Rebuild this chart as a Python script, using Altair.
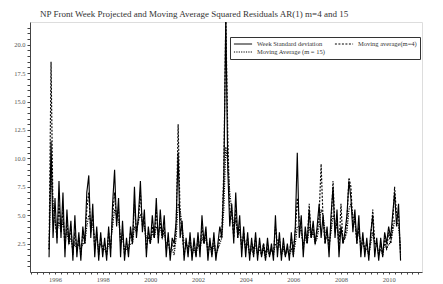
import altair as alt
import pandas as pd

series_names = ["Week Standard deviation", "Moving average(m=4)", "Moving Average (m = 15)"]
start_year = 1995.75
step = 1.0 / 12

week_sd = [1.3, 11.5, 3.0,
    6.5, 2.5, 8.0, 3.0, 7.0, 1.3, 5.5, 2.5, 4.5, 1.0, 5.0, 1.3,
    3.5, 1.0, 4.0, 2.5, 7.0, 8.5, 3.0, 6.0, 1.3, 4.0, 1.0, 3.5,
    1.3, 3.0, 1.0, 4.0, 1.3, 6.0, 9.0, 4.0, 6.5, 1.3, 4.5, 1.0,
    3.0, 1.3, 4.0, 2.5, 7.5, 3.0, 5.0, 8.0, 3.5, 5.5, 1.3, 4.0,
    2.5, 5.0, 3.0, 6.5, 2.5, 5.5, 3.0, 5.0, 1.3, 3.5, 1.0, 3.0,
    2.5, 4.5, 10.5, 3.0, 4.5, 1.0, 3.0, 1.3, 3.5, 1.0, 3.0, 1.3,
    3.5, 1.3, 5.0, 2.5, 4.0, 1.0, 3.0, 1.3, 3.5, 1.0, 2.5, 4.0,
    3.0, 8.0, 22.5, 9.0, 4.0, 6.0, 2.5, 7.0, 3.0, 5.0, 1.3, 4.0,
    1.3, 3.5, 1.0, 3.0, 1.3, 3.5, 1.0, 3.0, 1.3, 2.5, 1.0, 3.0,
    1.3, 2.5, 1.0, 5.0, 1.3, 3.5, 1.0, 3.0, 1.3, 2.5, 1.0, 3.5,
    1.3, 4.0, 10.5, 3.0, 5.0, 1.3, 4.0, 2.5, 5.5, 3.0, 4.5, 2.5,
    4.0, 6.0, 3.0, 5.0, 2.5, 4.0, 1.3, 5.0, 7.5, 3.0, 5.5, 1.3,
    4.0, 2.5, 3.5, 5.0, 8.0, 6.5, 3.5, 5.5, 2.5, 5.0, 1.3, 3.5,
    1.3, 3.0, 1.0, 3.5, 5.0, 1.3, 3.0, 1.0, 3.0, 1.3, 3.5, 2.5,
    4.0, 3.0, 5.0, 7.0, 4.0, 6.0, 1.0]

ma4 = [2.0, 18.5, 5.0,
    4.5, 3.0, 6.0, 3.5, 5.5, 2.0, 4.5, 2.5, 4.0, 1.5, 3.5, 2.0,
    3.0, 1.5, 3.5, 2.5, 5.5, 7.0, 3.5, 5.0, 2.0, 3.5, 1.5, 3.0,
    2.0, 2.5, 1.5, 3.5, 2.0, 5.0, 7.0, 4.5, 5.5, 2.5, 3.5, 1.5,
    2.5, 2.0, 3.5, 2.5, 6.0, 3.5, 4.5, 7.0, 4.0, 4.5, 2.0, 3.5,
    2.5, 4.0, 3.0, 5.5, 3.0, 4.5, 3.0, 4.0, 2.0, 3.0, 1.5, 2.5,
    2.0, 4.0, 13.0, 5.0, 3.5, 1.5, 2.5, 2.0, 3.0, 1.5, 2.5, 1.5,
    3.0, 2.0, 4.0, 2.5, 3.5, 1.5, 2.5, 2.0, 3.0, 1.5, 2.0, 3.0,
    3.5, 9.0, 22.5, 12.0, 5.5, 5.0, 3.0, 5.5, 3.0, 4.0, 2.0, 3.5,
    2.0, 3.0, 1.5, 2.5, 2.0, 3.0, 1.5, 2.5, 1.5, 2.5, 1.5, 2.5,
    1.5, 2.0, 1.5, 4.0, 2.5, 3.0, 1.5, 2.5, 1.5, 2.0, 1.5, 3.0,
    2.0, 3.5, 6.5, 4.5, 4.0, 2.0, 3.5, 2.5, 6.0, 3.0, 4.0, 2.5,
    3.5, 5.0, 9.5, 4.5, 2.5, 3.5, 2.0, 4.0, 8.0, 3.5, 4.5, 2.0,
    6.0, 2.5, 3.0, 4.5, 8.3, 7.5, 4.0, 4.5, 2.5, 4.0, 2.0, 3.0,
    2.0, 2.5, 1.5, 3.0, 5.5, 2.5, 2.5, 1.5, 2.5, 1.5, 3.0, 2.0,
    3.5, 2.5, 4.0, 7.5, 5.0, 5.0, 1.5]

ma15 = [2.0, 9.0, 6.0,
    4.5, 3.5, 4.5, 3.5, 4.5, 3.0, 3.5, 2.5, 3.0, 2.0, 2.5, 2.0,
    2.5, 2.0, 2.5, 2.5, 4.0, 5.0, 4.5, 4.0, 3.0, 3.0, 2.0, 2.5,
    2.0, 2.0, 1.5, 2.5, 2.5, 4.0, 5.5, 5.0, 4.5, 3.0, 3.0, 2.0,
    2.0, 2.0, 2.5, 2.5, 4.0, 3.5, 4.5, 5.0, 4.5, 4.0, 3.0, 3.0,
    2.5, 3.5, 3.0, 4.0, 3.5, 4.0, 3.0, 3.5, 2.5, 2.5, 2.0, 2.0,
    1.5, 3.0, 6.0, 5.5, 4.0, 2.5, 2.5, 2.0, 2.5, 1.5, 2.0, 1.5,
    2.5, 2.0, 3.0, 2.5, 3.0, 2.0, 2.5, 1.5, 2.5, 1.5, 2.0, 2.5,
    3.0, 5.5, 11.0, 9.5, 7.0, 5.5, 4.0, 4.5, 3.5, 3.5, 2.5, 3.0,
    2.0, 2.5, 1.5, 2.0, 1.5, 2.5, 1.5, 2.0, 1.5, 2.0, 1.2, 2.0,
    1.5, 2.0, 1.5, 2.5, 2.0, 2.5, 1.5, 2.0, 1.5, 2.0, 1.5, 2.0,
    1.5, 2.5, 4.0, 4.0, 3.5, 2.5, 3.0, 2.5, 4.0, 3.0, 3.5, 2.5,
    3.0, 4.0, 5.5, 5.0, 3.5, 3.5, 2.5, 3.5, 5.0, 4.5, 4.0, 3.0,
    4.0, 3.0, 3.0, 3.5, 5.5, 6.0, 5.0, 4.5, 3.0, 3.5, 2.5, 2.5,
    2.0, 2.0, 1.5, 2.5, 3.5, 2.5, 2.5, 1.5, 2.0, 1.5, 2.5, 2.0,
    2.5, 2.5, 3.5, 4.5, 4.5, 4.0, 2.0]

x_ticks = [1995 + 0.25 * i for i in range(66)]
y_ticks = [0.5 * i for i in range(1, 44)]

rows = []
for name, vals in zip(series_names, [week_sd, ma4, ma15]):
    for i, v in enumerate(vals):
        rows.append({"t": start_year + i * step, "v": v, "s": name})
df = pd.DataFrame(rows)

font = "Liberation Serif"

chart = alt.Chart(df).mark_line(clip=True, strokeWidth=1.15, color="black").encode(
    x=alt.X("t:Q", scale=alt.Scale(domain=[1994.95, 2011.4], nice=False, zero=False),
            axis=alt.Axis(title=None, values=x_ticks, grid=False, tickSize=2,
                          labelExpr="datum.value % 2 == 0 ? format(datum.value, 'd') : ''",
                          labelFontSize=6.5, labelFont=font, labelColor="#555",
                          domainColor="#444", tickColor="#444", labelPadding=2)),
    y=alt.Y("v:Q", scale=alt.Scale(domain=[0, 22], nice=False),
            axis=alt.Axis(title=None, values=y_ticks, grid=False, tickSize=3,
                          labelExpr="datum.value % 2.5 == 0 ? format(datum.value, '.1f') : ''",
                          labelFontSize=6.5, labelFont=font, labelColor="#555",
                          domainColor="#444", tickColor="#444", labelPadding=2)),
    strokeDash=alt.StrokeDash("s:N",
        scale=alt.Scale(domain=series_names, range=[[1, 0], [2, 1.5], [1.2, 1.2]]),
        legend=alt.Legend(orient="none", legendX=200, legendY=15, direction="horizontal",
                          columns=2, title=None, strokeColor="#333", padding=3,
                          symbolType="stroke", symbolSize=330, symbolStrokeWidth=1,
                          symbolStrokeColor="black", labelFontSize=6.5, labelFont=font,
                          labelColor="#333", columnPadding=8, rowPadding=0,
                          clipHeight=8, labelOffset=4, labelLimit=200, symbolOffset=0)),
    detail="s:N",
).properties(
    width=392, height=250,
    title=alt.Title("NP Front Week Projected and Moving Average Squared Residuals AR(1) m=4 and 15",
                    anchor="start", frame="group", dx=10, offset=3, fontSize=9, font=font,
                    fontWeight="normal", color="#333"),
    autosize="none",
    padding={"left": 22, "top": 14, "right": 5, "bottom": 10},
).configure_view(stroke=None).configure(background="white")

chart.save("out.html", embed_options={"renderer": "svg", "actions": False})
